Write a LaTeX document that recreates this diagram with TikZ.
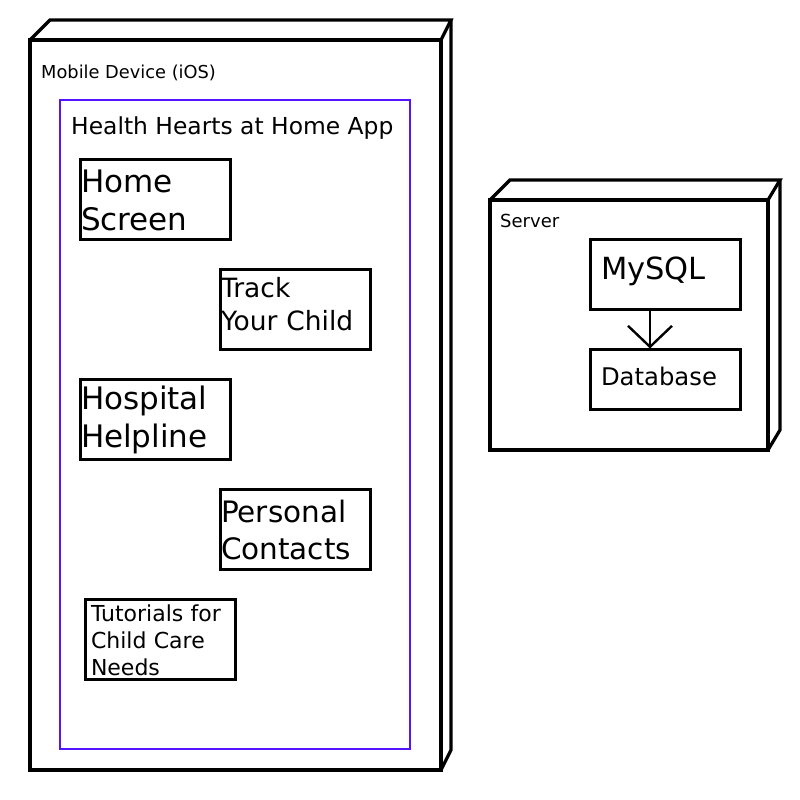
\documentclass[tikz,border=0pt]{standalone}
\usepackage{fontspec}
\setmainfont{DejaVu Sans}
\usetikzlibrary{arrows.meta}

\definecolor{ddLine}{RGB}{0,0,0}
\definecolor{ddApp}{RGB}{85,20,255}

\begin{document}
\begin{tikzpicture}[x=1pt, y=1pt,
  nodeface/.style={line width=3.2pt, draw=ddLine},
  appframe/.style={line width=2.4pt, draw=ddApp},
  comp/.style={draw=ddLine, line width=3pt, text width=148pt, minimum height=80pt, inner xsep=1pt, inner ysep=0pt, align=left},
  caption/.style={anchor=base west, inner sep=0pt}]
  \useasboundingbox (0,0) rectangle (800,800);
  % mobile device
  \draw[nodeface] (30,30) rectangle (441,760);
  \draw[nodeface] (30,760) -- (50,780) -- (451,780) -- (441,760);
  \draw[nodeface] (451,780) -- (451,50) -- (441,30);
  \node[caption, font=\fontsize{17.8}{21}\selectfont] (mobileLbl) at (41,721.5) {Mobile Device (iOS)};
  \draw[appframe] (60,51) rectangle (410,700);
  \node[caption, font=\fontsize{23.4}{28}\selectfont] (appLbl) at (71,665) {Health Hearts at Home App};
  \node[comp, font=\fontsize{31}{38}\selectfont] (home) at (155,600) {Home\\Screen};
  \node[comp, text height=20.1pt, text depth=46pt, font=\fontsize{26.5}{33}\selectfont] (track) at (295,490) {Track\\Your Child};
  \node[comp, font=\fontsize{31}{37.5}\selectfont] (hospital) at (155,380) {Hospital\\Helpline};
  \node[comp, font=\fontsize{29.5}{37}\selectfont] (contacts) at (295,270) {Personal\\Contacts};
  \node[comp, text width=138pt, inner xsep=6pt, font=\fontsize{22}{27}\selectfont] (tutorials) at (160,160) {Tutorials for\\Child Care\\Needs};
  % server
  \draw[nodeface] (490,350) rectangle (768,600);
  \draw[nodeface] (490,600) -- (510,620) -- (780,620) -- (768,600);
  \draw[nodeface] (780,620) -- (780,370) -- (768,350);
  \node[caption, font=\fontsize{18}{21}\selectfont] (serverLbl) at (500,572) {Server};
  \node[comp, text width=128pt, inner xsep=11pt, minimum height=70pt, text height=22.6pt, text depth=12.6pt, font=\fontsize{30.5}{36}\selectfont] (mysql) at (665,525) {MySQL};
  \node[comp, text width=128pt, inner xsep=11pt, minimum height=60pt, text height=18.5pt, text depth=6.5pt, font=\fontsize{24.3}{29}\selectfont] (db) at (665,420) {Database};
  \draw[line width=2.4pt, -{Straight Barb[length=21pt, width=44pt]}] ([xshift=-15pt]mysql.south) -- ([xshift=-15pt]db.north);
\end{tikzpicture}
\end{document}
